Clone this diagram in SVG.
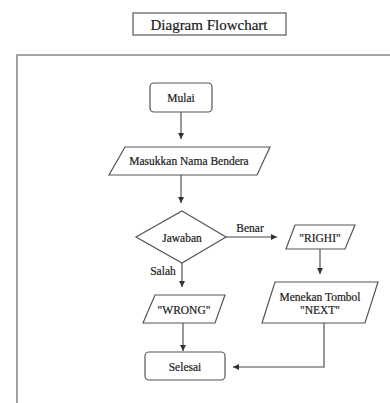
<svg xmlns="http://www.w3.org/2000/svg" width="390" height="403" viewBox="0 0 390 403">
<style>
.shape{fill:#fff;stroke:#555;stroke-width:1.2}
.txt{font-family:"Liberation Serif","Times New Roman",serif;font-size:11.5px;fill:#1a1a1a;stroke:#1a1a1a;stroke-width:0.2;text-anchor:middle;dominant-baseline:central}
.conn{fill:none;stroke:#444;stroke-width:1.1;marker-end:url(#ah)}
</style>
<defs>
<marker id="ah" markerUnits="userSpaceOnUse" markerWidth="7" markerHeight="7" refX="6" refY="3" orient="auto">
<path d="M0,0 L6,3 L0,6 z" fill="#333"/>
</marker>
</defs>
<rect width="390" height="403" fill="#fff"/>
<g id="title">
<rect x="133" y="13" width="153" height="22" fill="#fff" stroke="#666" stroke-width="1.3"/>
<text x="209" y="24.5" class="txt" style="font-size:15px">Diagram Flowchart</text>
</g>
<g id="frame">
<path d="M17,403 V55 H390" fill="none" stroke="#888" stroke-width="1.6"/>
</g>
<g id="connectors">
<line class="conn" x1="181" y1="112" x2="181" y2="139"/>
<line class="conn" x1="181" y1="175" x2="181" y2="203"/>
<line class="conn" x1="226" y1="237" x2="277" y2="237"/>
<line class="conn" x1="320" y1="249" x2="320" y2="274"/>
<line class="conn" x1="182" y1="263" x2="182" y2="287"/>
<line class="conn" x1="183" y1="323" x2="183" y2="351"/>
<polyline class="conn" points="324,323 324,367 233,367"/>
</g>
<g id="mulai">
<rect class="shape" x="150" y="83" width="62" height="29" rx="4"/>
<text class="txt" x="181" y="97.5">Mulai</text>
</g>
<g id="masukkan">
<polygon class="shape" points="125,147 270,147 257,175 109,175"/>
<text class="txt" x="189" y="161">Masukkan Nama Bendera</text>
</g>
<g id="jawaban">
<polygon class="shape" points="182,211 226,237 182,263 136,237"/>
<text class="txt" x="182" y="237.5">Jawaban</text>
</g>
<text class="txt" x="250" y="228">Benar</text>
<text class="txt" x="163" y="271">Salah</text>
<g id="righi">
<polygon class="shape" points="295,225 355,225 345,249 286,249"/>
<text class="txt" x="320" y="237.5">"RIGHI"</text>
</g>
<g id="menekan">
<polygon class="shape" points="275,282 378,282 365,323 262,323"/>
<text class="txt" x="320" y="296.5">Menekan Tombol</text>
<text class="txt" x="320" y="309.5">"NEXT"</text>
</g>
<g id="wrong">
<polygon class="shape" points="155,295 225,295 215,323 143,323"/>
<text class="txt" x="184" y="309.5">"WRONG"</text>
</g>
<g id="selesai">
<rect class="shape" x="145" y="352" width="80" height="28" rx="4"/>
<text class="txt" x="185" y="366.5">Selesai</text>
</g>
</svg>
